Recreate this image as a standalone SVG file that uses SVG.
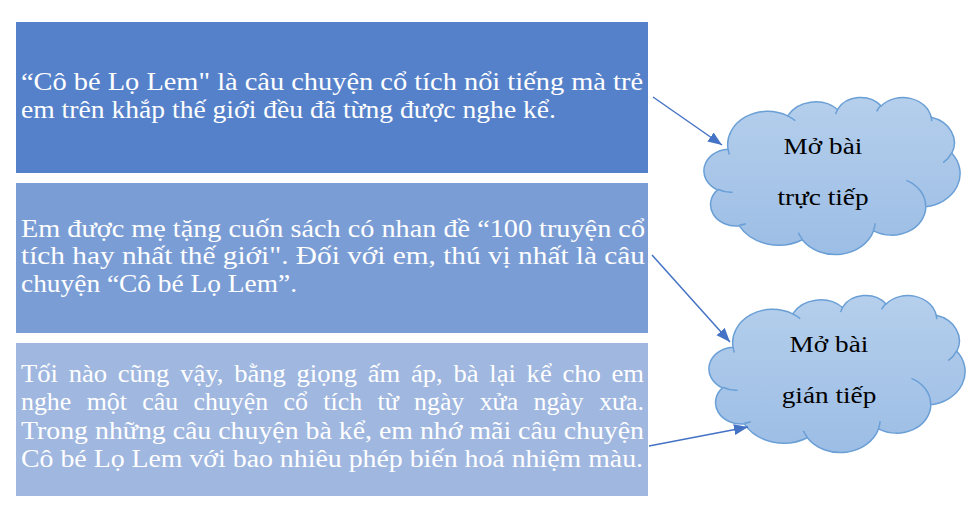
<svg xmlns="http://www.w3.org/2000/svg" xmlns:xlink="http://www.w3.org/1999/xlink" width="975" height="523" viewBox="0 0 975 523">
<defs>
<style>
.boxtext{font-family:"Liberation Serif","Times New Roman",serif;font-size:26px;fill:#ffffff}
.cloudtext{font-family:"Liberation Serif","Times New Roman",serif;font-size:24px;fill:#000000;text-anchor:middle}
.cloud{fill:url(#cg);stroke:#6A9FD6;stroke-width:1.5}
.crease{fill:none;stroke:#6A9FD6;stroke-width:1.5}
.conn{stroke:#4472C4;stroke-width:1.5;fill:none;marker-end:url(#ah)}
</style>
<linearGradient id="cg" x1="0" y1="0" x2="0" y2="1">
<stop offset="0" stop-color="#B5CFEC"/>
<stop offset="1" stop-color="#9CBDE5"/>
</linearGradient>
<marker id="ah" markerUnits="userSpaceOnUse" markerWidth="15" markerHeight="12" refX="14" refY="5.5" orient="auto">
<path d="M0,0 L14,5.5 L0,11 z" fill="#4472C4"/>
</marker>
<path id="cloudshape" d="M23.02,52.22 A39.86,33.40 0 0,1 82.66,18.90 A31.48,26.41 0 0,1 132.55,12.48 A25.77,21.61 0 0,1 176.10,9.02 A28.67,23.97 0 0,1 226.18,20.27 A31.48,26.43 0 0,1 246.84,56.19 A39.99,33.51 0 0,1 220.79,109.77 A34.15,28.59 0 0,1 168.56,133.80 A39.86,33.49 0 0,1 97.29,142.71 A45.57,38.32 0 0,1 34.27,128.92 A25.74,21.51 0 0,1 12.48,92.86 A25.65,21.61 0 0,1 23.02,52.22 Z"/>
<path id="creases" d="M27.70,95.13 A25.65,21.61 0 0,1 12.75,92.24 M40.89,126.83 A25.74,21.51 0 0,1 34.35,128.22 M97.27,142.06 A39.86,33.49 0 0,1 93.32,135.73 M170.16,126.30 A39.86,33.49 0 0,1 168.59,133.23 M201.46,83.42 A34.15,28.59 0 0,1 220.65,109.35 M246.73,55.80 A31.48,26.43 0 0,1 238.18,65.53 M226.22,19.72 A28.67,23.97 0 0,1 226.67,24.31 M171.64,14.36 A28.67,23.97 0 0,1 176.02,8.51 M130.69,17.15 A25.77,21.61 0 0,1 132.81,12.10 M82.64,18.87 A39.86,33.40 0 0,1 90.31,23.77 M24.36,57.38 A39.86,33.40 0 0,1 23.02,52.22"/>
</defs>
<rect width="975" height="523" fill="#ffffff"/>

<g id="box1">
<rect x="16" y="22" width="632" height="151" fill="#5581CA"/>
<text class="boxtext" x="21" y="90" textLength="622" lengthAdjust="spacingAndGlyphs">“Cô bé Lọ Lem" là câu chuyện cổ tích nổi tiếng mà trẻ</text>
<text class="boxtext" x="21" y="118" textLength="535" lengthAdjust="spacingAndGlyphs">em trên khắp thế giới đều đã từng được nghe kể.</text>
</g>

<g id="box2">
<rect x="16" y="183" width="632" height="150" fill="#7B9DD5"/>
<text class="boxtext" x="21" y="237" textLength="624" lengthAdjust="spacingAndGlyphs">Em được mẹ tặng cuốn sách có nhan đề “100 truyện cổ</text>
<text class="boxtext" x="21" y="264" textLength="624" lengthAdjust="spacingAndGlyphs">tích hay nhất thế giới". Đối với em, thú vị nhất là câu</text>
<text class="boxtext" x="21" y="292" textLength="276" lengthAdjust="spacingAndGlyphs">chuyện “Cô bé Lọ Lem”.</text>
</g>

<g id="box3">
<rect x="16" y="343" width="632" height="153" fill="#A0B7E0"/>
<text class="boxtext" x="21" y="382" textLength="623" lengthAdjust="spacingAndGlyphs" word-spacing="4">Tối nào cũng vậy, bằng giọng ấm áp, bà lại kể cho em</text>
<text class="boxtext" x="21" y="410" textLength="623" lengthAdjust="spacingAndGlyphs" word-spacing="9">nghe một câu chuyện cổ tích từ ngày xửa ngày xưa.</text>
<text class="boxtext" x="21" y="439" textLength="623" lengthAdjust="spacingAndGlyphs">Trong những câu chuyện bà kể, em nhớ mãi câu chuyện</text>
<text class="boxtext" x="21" y="467" textLength="622" lengthAdjust="spacingAndGlyphs">Cô bé Lọ Lem với bao nhiêu phép biến hoá nhiệm màu.</text>
</g>

<g id="cloud1">
<g transform="translate(705,97)">
<use xlink:href="#cloudshape" class="cloud"/>
<use xlink:href="#creases" class="crease"/>
</g>
<text class="cloudtext" transform="translate(823,154) scale(1.136,1)">Mở bài</text>
<text class="cloudtext" transform="translate(823,205) scale(1.136,1)">trực tiếp</text>
</g>

<g id="cloud2">
<g transform="translate(710,295)">
<use xlink:href="#cloudshape" class="cloud"/>
<use xlink:href="#creases" class="crease"/>
</g>
<text class="cloudtext" transform="translate(829,352) scale(1.136,1)">Mở bài</text>
<text class="cloudtext" transform="translate(829,403) scale(1.136,1)">gián tiếp</text>
</g>

<g id="connectors">
<line class="conn" x1="653" y1="97" x2="722" y2="145"/>
<line class="conn" x1="652" y1="255" x2="730" y2="342"/>
<line class="conn" x1="649" y1="446" x2="748" y2="427"/>
</g>
</svg>
